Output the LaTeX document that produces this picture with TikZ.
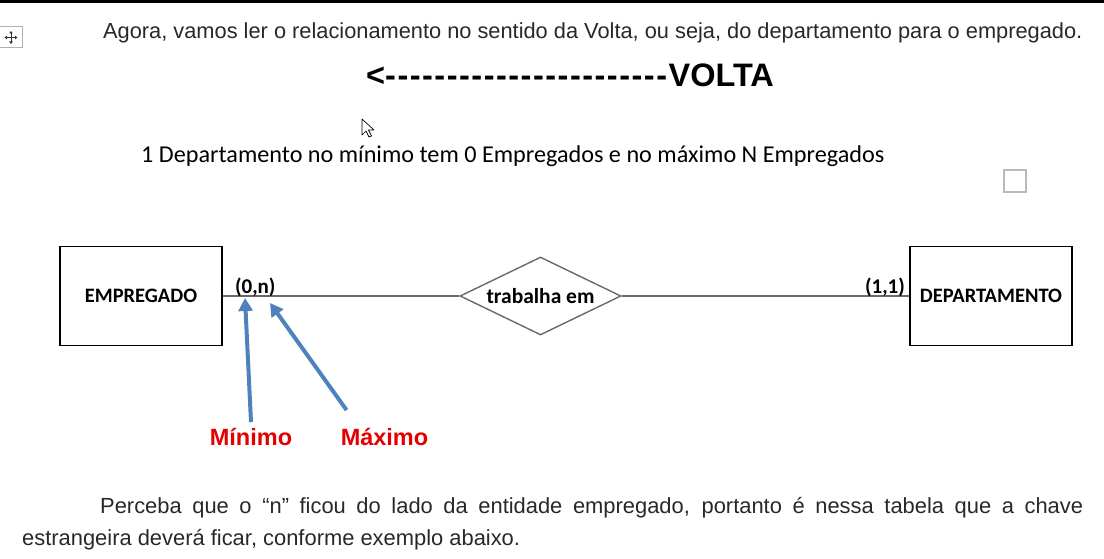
\documentclass[tikz,border=0pt]{standalone}
\usepackage{fontspec}
\setmainfont{Liberation Sans}
\newfontfamily\calibri{Carlito}
\usetikzlibrary{shapes.geometric,arrows.meta}
\definecolor{azul}{RGB}{79,129,189}
\definecolor{vermelho}{RGB}{228,0,0}
\definecolor{linha}{RGB}{105,105,105}
\definecolor{cinzatexto}{RGB}{40,40,40}
\newcommand\tracos[1]{\foreach\t in {1,...,#1}{-\kern1.5pt}}
\tikzset{
  entidade/.style={draw,line width=1.8pt,minimum width=162,minimum height=99,inner sep=0,
    font=\calibri\bfseries\fontsize{20.5}{24}\selectfont},
  relac/.style={diamond,draw=linha,line width=1.4pt,aspect=2.06,minimum width=161,minimum height=78,inner sep=0,
    font=\calibri\bfseries\fontsize{21.5}{24}\selectfont},
  card/.style={inner sep=0,font=\calibri\bfseries\fontsize{21}{24}\selectfont},
  seta/.style={azul,line width=4pt,-{Triangle[length=13pt,width=14pt]}},
  rotulo/.style={vermelho,inner sep=0,font=\bfseries\fontsize{23.5}{28}\selectfont},
  texto/.style={inner sep=0,anchor=base west,text=cinzatexto}
}
\begin{document}
\begin{tikzpicture}[x=1pt,y=-1pt]
    \useasboundingbox (0,0) rectangle (1104,559);
    \fill (0,0) rectangle (1104,3);
    % alca de mover tabela
    \draw[gray!60,line width=1pt] (-1,27) rectangle (22,48);
    \foreach \a in {0,90,180,270}
        \draw[gray!40!black,line width=.8pt,-{Triangle[length=2.5pt,width=3.5pt]}] (11,37.5) -- ++(\a:6.5);
    \node[texto,font=\fontsize{21.8}{26}\selectfont] (intro) at (103,39)
        {Agora, vamos ler o relacionamento no sentido da Volta, ou seja, do departamento para o empregado.};
    \node[texto,text=black,font=\bfseries\fontsize{32.5}{36}\selectfont] (volta) at (366,87) {<\tracos{23}VOLTA};
    % cursor
    \draw[fill=white,line width=.7pt,line join=round] (362,119) -- (362,135) -- (366,131) -- (369,137)
        -- (371.5,136) -- (368.5,130) -- (374,130) -- cycle;
    \node[texto,text=black,font=\calibri\fontsize{24.2}{28}\selectfont] (regra) at (141,163)
        {1 Departamento no mínimo tem 0 Empregados e no máximo N Empregados};
    \draw[gray!55,line width=1.5pt] (1004,170) rectangle (1026,192);
    % diagrama
    \node[entidade] (emp) at (141,296) {EMPREGADO};
    \node[relac] (rel) at (540.5,296) {trabalha em};
    \node[entidade] (dep) at (991,296) {DEPARTAMENTO};
    \draw[linha,line width=1.4pt] (emp) -- (rel) -- (dep);
    \node[card,anchor=base west] (c1) at ([shift={(12pt,3pt)}]emp.east) {(0,n)};
    \node[card,anchor=base east] (c2) at ([shift={(-4pt,3pt)}]dep.west) {(1,1)};
    \node[rotulo] (mini) at (251,437) {Mínimo};
    \node[rotulo] (maxi) at (384.5,437) {Máximo};
    \coordinate (pmin) at (245,298);
    \coordinate (pmax) at (270,303);
    \draw[seta] ([yshift=6pt]mini.north) -- (pmin);
    \draw[seta] ([shift={(6pt,18pt)}]maxi.north west) -- (pmax);
    % paragrafo final
    \node[texto,font=\fontsize{21.9}{32}\selectfont] (par1) at (100,513)
        {\makebox[983pt][s]{Perceba que o “n” ficou do lado da entidade empregado, portanto é nessa tabela que a chave}};
    \node[texto,font=\fontsize{21.9}{32}\selectfont] (par2) at (22,545)
        {estrangeira deverá ficar, conforme exemplo abaixo.};
\end{tikzpicture}
\end{document}
